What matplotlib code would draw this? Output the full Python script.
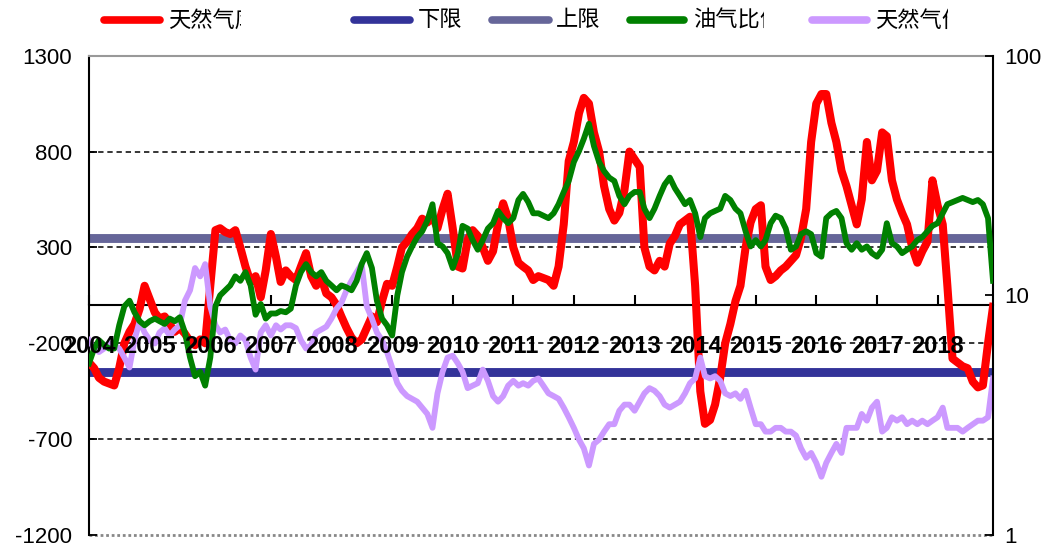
import numpy as np
import pandas as pd
import matplotlib
matplotlib.use('Agg')
import matplotlib.pyplot as plt
from matplotlib.lines import Line2D
from matplotlib.transforms import Bbox, TransformedBbox, blended_transform_factory

# monthly values, 2004-01 .. 2018-12
storage_dev = [
    -300, -330, -380, -400, -410, -420, -330, -200, -140, -100, -20, 100,
    30, -40, -70, -60, -100, -140, -120, -150, -190, -210, -180, -200,
    100, 390, 400, 380, 370, 390, 300, 200, 120, 150, 40, 180,
    370, 250, 120, 180, 150, 130, 200, 270, 150, 100, 140, 60,
    40, 0, -60, -120, -170, -200, -180, -120, -60, -90, 20, 110,
    100, 200, 300, 330, 370, 400, 450, 430, 460, 400, 500, 580,
    400, 200, 190, 340, 390, 360, 300, 230, 280, 420, 530, 450,
    300, 220, 200, 180, 130, 150, 140, 130, 100, 200, 420, 750,
    850, 1000, 1080, 1050, 900, 800, 620, 500, 440, 480, 600, 800,
    760, 720, 300, 200, 180, 230, 200, 320, 360, 420, 440, 460,
    100, -450, -620, -600, -520, -380, -200, -100, 20, 100, 300, 430,
    500, 520, 200, 130, 150, 180, 200, 230, 260, 350, 500, 850,
    1050, 1100, 1100, 950, 850, 700, 620, 520, 420, 550, 850, 650,
    700, 900, 880, 650, 550, 480, 420, 300, 220, 280, 330, 650,
    520, 420, 100, -280, -300, -320, -330, -400, -430, -420, -200, -10,
]

oil_gas_ratio = [
    5.2, 6.0, 6.5, 6.2, 6.0, 6.0, 7.5, 9.0, 9.5, 8.5, 7.8, 7.5,
    7.8, 8.0, 7.8, 7.6, 8.0, 7.8, 8.1, 7.0, 5.5, 4.6, 4.8, 4.2,
    5.5, 9.0, 10.0, 10.5, 11.0, 12.0, 11.5, 12.5, 11.0, 8.3, 9.2, 8.0,
    8.4, 8.4, 8.6, 8.5, 8.8, 11.0, 12.5, 13.5, 12.5, 12.0, 12.5, 11.5,
    11.0, 10.5, 11.0, 10.8, 10.5, 11.5, 13.5, 15.0, 13.0, 9.5, 8.0, 7.5,
    6.8, 10.0, 12.5, 14.5, 16.0, 17.5, 18.5, 20.5, 24.0, 16.5, 16.0, 15.0,
    13.0, 15.0, 19.5, 19.0, 17.0, 15.5, 17.0, 19.0, 20.0, 22.5, 21.0, 20.0,
    21.0, 25.0, 26.5, 24.5, 22.0, 22.0, 21.5, 21.0, 22.0, 24.0, 27.0, 30.0,
    36, 40, 45, 52, 42, 36, 33, 31, 30, 26, 24, 26,
    27, 27, 23, 21, 23, 26, 29, 31, 28, 26, 24, 25,
    22, 17.5, 21, 22, 22.5, 23, 26, 25, 23, 22, 18.5, 16,
    17, 16, 17, 20, 21.5, 21, 19, 15.5, 16, 18, 18.5, 18,
    15, 14.5, 21, 22, 22.5, 21, 16.5, 15.5, 16.5, 15.5, 16, 15,
    14.5, 15.5, 20, 16.5, 16, 15, 15.5, 16, 17, 17.5, 18.5, 19.5,
    20, 22, 24, 24.5, 25, 25.5, 25, 24.5, 25, 24, 21, 11.5,
]

gas_price = [
    6.5, 6.0, 5.8, 6.0, 6.3, 6.2, 6.0, 5.5, 5.0, 6.5, 7.8, 7.0,
    6.5, 6.3, 7.0, 7.3, 6.8, 7.2, 7.5, 9.5, 10.5, 13.0, 12.0, 13.5,
    9.0, 7.5, 7.0, 7.2, 6.5, 6.3, 6.8, 6.5, 5.5, 4.9, 7.0, 7.5,
    6.8, 7.5, 7.2, 7.5, 7.5, 7.3, 6.5, 6.0, 6.2, 7.0, 7.2, 7.4,
    8.0, 8.8, 9.3, 10.5, 11.5, 12.5, 13.5, 9.0, 8.0, 7.0, 6.5, 5.8,
    5.0, 4.3, 4.0, 3.8, 3.7, 3.6, 3.4, 3.2, 2.8, 3.9, 4.8, 5.5,
    5.6, 5.2, 4.8, 4.1, 4.2, 4.3, 4.9, 4.4, 3.8, 3.6, 3.8, 4.2,
    4.4, 4.2, 4.3, 4.2, 4.4, 4.5, 4.2, 3.9, 3.8, 3.7, 3.4, 3.1,
    2.8, 2.5, 2.3, 1.95, 2.4, 2.5, 2.7, 2.9, 2.9, 3.3, 3.5, 3.5,
    3.3, 3.6, 3.9, 4.1, 4.0, 3.8, 3.5, 3.4, 3.5, 3.6, 3.9, 4.3,
    4.5, 5.5, 4.6, 4.5, 4.6, 4.4, 3.9, 3.8, 3.9, 3.7, 4.0, 3.4,
    2.9, 2.9, 2.7, 2.7, 2.8, 2.8, 2.7, 2.7, 2.6, 2.3, 2.1, 2.2,
    2.0, 1.75, 2.0, 2.2, 2.4, 2.2, 2.8, 2.8, 2.8, 3.2, 3.0, 3.4,
    3.6, 2.7, 2.8, 3.1, 3.0, 3.1, 2.9, 3.0, 2.9, 3.0, 2.9, 3.0,
    3.1, 3.4, 2.8, 2.8, 2.8, 2.7, 2.8, 2.9, 3.0, 3.0, 3.1, 4.5,
]

lower_limit = -350
upper_limit = 350

left_ticks = [-1200, -700, -200, 300, 800, 1300]
right_ticks = [1, 10, 100]
year_labels = [str(y) for y in range(2004, 2019)]

legend_labels = ['天然气库存偏离', '下限', '上限', '油气比价', '天然气价格']

dates = pd.date_range('2004-01-01', periods=len(storage_dev), freq='MS')
year_ticks = pd.to_datetime([y + '-01-01' for y in year_labels])

W, H = 1051, 545
fig = plt.figure(figsize=(W / 100, H / 100), dpi=100)
ax = fig.add_axes([89 / W, 1 - 535 / H, 904 / W, (535 - 55.7) / H])

RED = '#FF0000'
NAVY = '#333399'
SLATE = '#666699'
GREEN = '#008000'
LAV = '#CC99FF'
TICK_FONT = dict(fontsize=16, family='Liberation Sans')

# left axis: spread and limits
for v in left_ticks[1:-1]:
    ax.axhline(v, color='black', lw=1.1, ls=(0, (3.5, 2.5)), zorder=1)
ax.axhline(-1200, color='#888888', lw=2, ls=(0, (1, 1)), clip_on=False, zorder=1)
ax.plot(dates, [lower_limit] * len(dates), color=NAVY, lw=6.4, zorder=2)
ax.plot(dates, [upper_limit] * len(dates), color=SLATE, lw=6.4, zorder=2)
ax.plot(dates, storage_dev, color=RED, lw=5.8, solid_joinstyle='round', zorder=3)

ax.set_xlim(dates[0], dates[-1])
ax.set_ylim(-1200, 1300)
ax.set_yticks(left_ticks)
ax.set_yticklabels([str(v) for v in left_ticks], **TICK_FONT)
ax.tick_params(axis='y', direction='in', length=6, width=1.3, pad=12)

ax.spines['bottom'].set_position(('data', 0))
ax.spines['bottom'].set_linewidth(1.5)
ax.spines['left'].set_linewidth(1.5)
ax.spines['right'].set_visible(False)
ax.spines['top'].set_color('#999999')
ax.spines['top'].set_linewidth(1.5)
ax.set_xticks(year_ticks)
ax.set_xticklabels([])
ax.tick_params(axis='x', direction='in', length=7, width=1.5)
ax.xaxis.set_minor_locator(plt.NullLocator())

# right axis: log scale ratio and gas price
ax2 = ax.twinx()
ax2.plot(dates, gas_price, color=LAV, lw=4.2, solid_joinstyle='round', zorder=2)
ax2.plot(dates, oil_gas_ratio, color=GREEN, lw=4.2, solid_joinstyle='round', zorder=3)
ax2.set_yscale('log')
ax2.set_ylim(1, 100)
ax2.set_yticks(right_ticks)
ax2.set_yticklabels([str(v) for v in right_ticks], **TICK_FONT)
ax2.yaxis.set_minor_locator(plt.NullLocator())
ax2.tick_params(axis='y', direction='in', length=6, width=1.3, pad=8)
for s in ['top', 'bottom', 'left']:
    ax2.spines[s].set_visible(False)
ax2.spines['right'].set_linewidth(1.5)

# year labels sit on the -200 grid line, above all the series
trans = blended_transform_factory(ax2.transData, ax.transData)
for d, lab in zip(year_ticks, year_labels):
    ax2.text(d, -215, lab, transform=trans, ha='center', va='center',
             fontsize=17, fontweight='bold', family='Liberation Sans', zorder=10)

# legend drawn by hand (Excel truncates the labels)
colors = [RED, NAVY, SLATE, GREEN, LAV]
line_x = [(104, 160), (354, 410), (492, 549), (630, 684), (812, 867)]
text_x = [168, 418, 556, 693, 875]
clip_x = [241, 470, 605, 764, 948]
ly = 1 - 20 / H
for lab, c, (x0, x1), tx, cx in zip(legend_labels, colors, line_x, text_x, clip_x):
    fig.add_artist(Line2D([x0 / W, x1 / W], [ly, ly], transform=fig.transFigure,
                          color=c, lw=5.5, solid_capstyle='round'))
    t = fig.text(tx / W, ly, lab, fontsize=16, va='center', ha='left',
                 family=['Noto Sans CJK SC', 'DejaVu Sans'])
    t.set_clip_box(TransformedBbox(Bbox.from_extents(0, 0, cx / W, 1), fig.transFigure))
    t.set_clip_on(True)

fig.savefig('out.png', dpi=100, facecolor='white')
